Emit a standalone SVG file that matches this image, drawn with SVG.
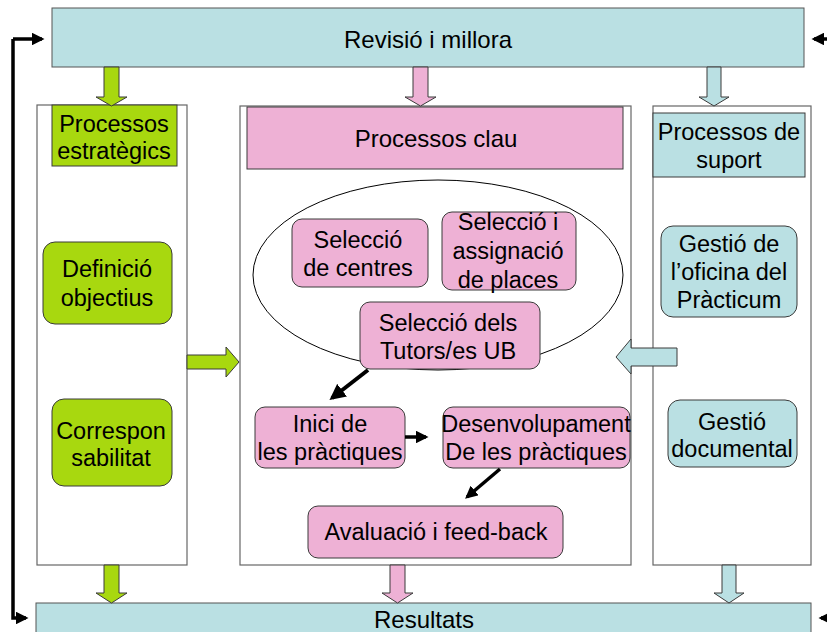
<svg xmlns="http://www.w3.org/2000/svg" width="827" height="632" viewBox="0 0 827 632">
<defs>
<style>
text{font-family:"Liberation Sans",Arial,sans-serif;font-size:23.5px;fill:#000;text-anchor:middle}
.big{font-size:24px}
.col{fill:#fff;stroke:#666;stroke-width:1.2}
.g{fill:#a8d80f;stroke:#3a3a3a;stroke-width:1}
.p{fill:#eeb1d5;stroke:#3a3a3a;stroke-width:1}
.b{fill:#bae0e3;stroke:#3a3a3a;stroke-width:1}
.bar{fill:#bae0e3;stroke:#555;stroke-width:1}
.blk{stroke:#000;stroke-width:4;fill:none}
.thin{stroke:#000;stroke-width:3.5;fill:none}
</style>
<marker id="ah" viewBox="0 0 10 10" refX="8" refY="5" markerWidth="4" markerHeight="4" orient="auto"><path d="M0,0 L10,5 L0,10 z" fill="#000"/></marker>
<marker id="ah2" viewBox="0 0 10 10" refX="8" refY="5" markerWidth="3.6" markerHeight="3.6" orient="auto"><path d="M0,0 L10,5 L0,10 z" fill="#000"/></marker>
</defs>

<g id="revisio">
<rect class="bar" x="52" y="8" width="752" height="59"/>
<text class="big" x="428" y="48">Revisió i millora</text>
</g>

<g id="resultats">
<rect class="bar" x="36" y="603" width="775" height="40"/>
<text class="big" x="424" y="628">Resultats</text>
</g>

<g id="col-estrategics">
<rect class="col" x="37" y="105" width="150" height="460"/>
<rect class="g" x="52" y="105" width="125" height="61"/>
<text x="114" y="132">Processos</text>
<text x="114" y="159">estratègics</text>
</g>

<g id="col-clau">
<rect class="col" x="240" y="106" width="391" height="459"/>
<rect class="p" x="247" y="107" width="376" height="62"/>
<text class="big" x="436" y="147">Processos clau</text>
<ellipse cx="438" cy="275" rx="185" ry="95" fill="none" stroke="#000" stroke-width="1"/>
</g>

<g id="col-suport">
<rect class="col" x="653" y="106" width="158" height="459"/>
<rect class="b" x="653" y="113" width="152" height="64"/>
<text x="729" y="140">Processos de</text>
<text x="729" y="168">suport</text>
</g>

<g id="definicio">
<rect class="g" x="43" y="242" width="129" height="82" rx="12"/>
<text x="107" y="277">Definició</text>
<text x="107" y="306">objectius</text>
</g>

<g id="correspon">
<rect class="g" x="52" y="399" width="120" height="87" rx="12"/>
<text x="111" y="439">Correspon</text>
<text x="111" y="466">sabilitat</text>
</g>

<g id="sel-centres">
<rect class="p" x="292" y="219" width="136" height="68" rx="10"/>
<text x="358" y="248">Selecció</text>
<text x="358" y="276">de centres</text>
</g>

<g id="sel-places">
<rect class="p" x="442" y="212" width="134" height="78" rx="10"/>
<text x="508" y="230">Selecció i</text>
<text x="508" y="259">assignació</text>
<text x="508" y="288">de places</text>
</g>

<g id="sel-tutors">
<rect class="p" x="360" y="302" width="180" height="67" rx="10"/>
<text x="448" y="331">Selecció dels</text>
<text x="448" y="359">Tutors/es UB</text>
</g>

<g id="inici">
<rect class="p" x="255" y="407" width="150" height="61" rx="10"/>
<text x="330" y="432">Inici de</text>
<text x="330" y="460">les pràctiques</text>
</g>

<g id="desenvolupament">
<rect class="p" x="443" y="407" width="187" height="61" rx="10"/>
<text x="536" y="432">Desenvolupament</text>
<text x="536" y="460">De les pràctiques</text>
</g>

<g id="avaluacio">
<rect class="p" x="308" y="506" width="255" height="52" rx="10"/>
<text x="436" y="540">Avaluació i feed-back</text>
</g>

<g id="gestio-oficina">
<rect class="b" x="661" y="226" width="136" height="91" rx="12"/>
<text x="729" y="252">Gestió de</text>
<text x="729" y="280">l’oficina del</text>
<text x="729" y="308">Pràcticum</text>
</g>

<g id="gestio-doc">
<rect class="b" x="668" y="400" width="129" height="67" rx="12"/>
<text x="732" y="430">Gestió</text>
<text x="732" y="457">documental</text>
</g>

<g id="connectors">
<path class="g" d="M104,67 H119 V97 H127 L111.5,106 L96,97 H104 Z"/>
<path class="p" d="M413,67 H428 V97 H436 L420.5,106 L405,97 H413 Z"/>
<path class="b" d="M707,67 H721 V97 H729 L714,106 L699,97 H707 Z"/>
<path class="g" d="M104,565 H119 V593 H127 L111.5,603 L96,593 H104 Z"/>
<path class="p" d="M390,565 H405 V593 H413 L397.5,603 L382,593 H390 Z"/>
<path class="b" d="M722,565 H736 V593 H744 L729,603 L714,593 H722 Z"/>
<path class="g" d="M187,355 H226 V347 L239,362 L226,377 V369 H187 Z"/>
<path class="b" d="M677,348 H631 V339 L616,357 L631,374 V366 H677 Z"/>
<path class="thin" d="M13,39 V618 H26" marker-end="url(#ah2)"/>
<path class="thin" d="M13,39 H42" marker-end="url(#ah2)"/>
<path class="thin" d="M827,39 H814" marker-end="url(#ah2)"/>
<path class="thin" d="M827,618 H821" marker-end="url(#ah2)"/>
<path class="blk" d="M368,370 L332,398" marker-end="url(#ah)"/>
<path class="thin" d="M405,437 L426,437" marker-end="url(#ah2)"/>
<path class="thin" d="M500,469 L467,497" marker-end="url(#ah2)"/>
</g>
</svg>
